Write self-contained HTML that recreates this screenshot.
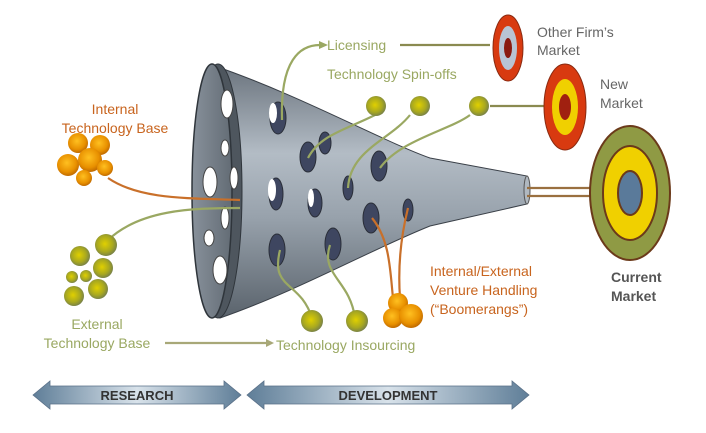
<!DOCTYPE html>
<html><head><style>
html,body{margin:0;padding:0;background:#fff;}
svg{display:block;}
text{font-family:"Liberation Sans",sans-serif;}
</style></head><body>
<svg width="706" height="433" viewBox="0 0 706 433" xmlns="http://www.w3.org/2000/svg">
<defs>
<linearGradient id="cone" x1="0" y1="0" x2="0" y2="1">
<stop offset="0" stop-color="#6a737d"/><stop offset="0.35" stop-color="#b3bcc5"/><stop offset="0.6" stop-color="#98a2ac"/><stop offset="1" stop-color="#5a636c"/>
</linearGradient>
<linearGradient id="face" x1="0" y1="0" x2="1" y2="0">
<stop offset="0" stop-color="#88919b"/><stop offset="1" stop-color="#636c75"/>
</linearGradient>
<linearGradient id="arr" x1="0" y1="0" x2="1" y2="0">
<stop offset="0" stop-color="#5f7e98"/><stop offset="0.5" stop-color="#d8e2ea"/><stop offset="1" stop-color="#5f7e98"/>
</linearGradient>
<radialGradient id="gb" cx="0.45" cy="0.45" r="0.6"><stop offset="0" stop-color="#e0d000"/><stop offset="0.6" stop-color="#a8a820"/><stop offset="1" stop-color="#6f7a50"/></radialGradient>
<radialGradient id="ob" cx="0.45" cy="0.4" r="0.6"><stop offset="0" stop-color="#ffc020"/><stop offset="0.7" stop-color="#e89000"/><stop offset="1" stop-color="#c06a00"/></radialGradient>
</defs>

<path d="M212,65 C300,95 380,140 430,158 L527,176 L527,204 L430,226 C370,250 300,290 220,318 Z" fill="url(#cone)" stroke="#3a4048" stroke-width="1"/>
<ellipse cx="527" cy="190" rx="3" ry="14" fill="#b0b8c0" stroke="#555"/>
<ellipse cx="218" cy="191" rx="24" ry="127" fill="#4e565e" stroke="#2f353b" stroke-width="1"/>
<ellipse cx="212" cy="191" rx="20" ry="127" fill="url(#face)" stroke="#2f353b" stroke-width="1.5"/>
<g fill="#fff" stroke="#444" stroke-width="1">
<ellipse cx="227" cy="104" rx="6" ry="14"/>
<ellipse cx="225" cy="148" rx="4" ry="8"/>
<ellipse cx="210" cy="182" rx="7" ry="15"/>
<ellipse cx="234" cy="178" rx="4" ry="11"/>
<ellipse cx="225" cy="218" rx="4" ry="11"/>
<ellipse cx="209" cy="238" rx="5" ry="8"/>
<ellipse cx="220" cy="270" rx="7" ry="14"/>
</g>
<g fill="#3e4660" stroke="#2a2e38" stroke-width="1">
<ellipse cx="278" cy="118" rx="8" ry="16"/>
<ellipse cx="325" cy="143" rx="6" ry="11"/>
<ellipse cx="308" cy="157" rx="8" ry="15"/>
<ellipse cx="379" cy="166" rx="8" ry="15"/>
<ellipse cx="276" cy="194" rx="7" ry="16"/>
<ellipse cx="315" cy="203" rx="7" ry="14"/>
<ellipse cx="348" cy="188" rx="5" ry="12"/>
<ellipse cx="371" cy="218" rx="8" ry="15"/>
<ellipse cx="408" cy="210" rx="5" ry="11"/>
<ellipse cx="277" cy="250" rx="8" ry="16"/>
<ellipse cx="333" cy="244" rx="8" ry="16"/>
</g>
<g fill="#fff"><ellipse cx="273" cy="113" rx="4" ry="10"/><ellipse cx="311" cy="198" rx="3" ry="9"/><ellipse cx="272" cy="190" rx="4" ry="11"/></g>

<g fill="none" stroke-width="2.2">
<path d="M108,178 C140,200 190,198 240,200" stroke="#c9702a"/>
<path d="M108,240 C140,210 190,208 240,208" stroke="#9aa862"/>
<path d="M282,120 C280,60 300,45 320,45" stroke="#9aa862"/>
<path d="M400,45 L490,45" stroke="#8a8a50"/>
<path d="M308,158 C320,135 345,130 375,115" stroke="#9aa862"/>
<path d="M348,188 C350,150 390,140 410,115" stroke="#9aa862"/>
<path d="M380,168 C400,140 450,130 470,115" stroke="#9aa862"/>
<path d="M490,106 L560,106" stroke="#8a8a50"/>
<path d="M527,188 L625,188 M527,196 L625,196" stroke="#9a7040"/>
<path d="M312,318 C300,280 270,290 280,250" stroke="#9aa862"/>
<path d="M355,318 C350,280 320,275 330,245" stroke="#9aa862"/>
<path d="M372,218 C390,240 390,270 393,298" stroke="#c9702a"/>
<path d="M408,208 C400,240 398,270 400,298" stroke="#c9702a"/>
<path d="M165,343 L270,343" stroke="#a8a878"/>
</g>
<g fill="#9aa862"><path d="M328,45 l-9,-4 v8z"/><path d="M274,343 l-8,-4 v8z" fill="#a8a878"/></g>

<g fill="url(#gb)">
<circle cx="376" cy="106" r="10"/><circle cx="420" cy="106" r="10"/><circle cx="479" cy="106" r="10"/>
<circle cx="312" cy="321" r="11"/><circle cx="357" cy="321" r="11"/>
<circle cx="106" cy="245" r="11"/><circle cx="80" cy="256" r="10"/><circle cx="103" cy="268" r="10"/>
<circle cx="74" cy="296" r="10"/><circle cx="98" cy="289" r="10"/><circle cx="86" cy="276" r="6"/>
<circle cx="72" cy="277" r="6"/>
</g>
<g fill="url(#ob)">
<circle cx="78" cy="143" r="10"/><circle cx="100" cy="145" r="10"/><circle cx="68" cy="165" r="11"/>
<circle cx="90" cy="160" r="12"/><circle cx="105" cy="168" r="8"/><circle cx="84" cy="178" r="8"/>
<circle cx="398" cy="303" r="10"/><circle cx="393" cy="318" r="10"/><circle cx="411" cy="316" r="12"/>
</g>

<ellipse cx="630" cy="193" rx="40" ry="67" fill="#8f9a44" stroke="#6b3a1a" stroke-width="2"/>
<ellipse cx="630" cy="193" rx="27" ry="47" fill="#f0d000" stroke="#6b3a1a" stroke-width="2"/>
<ellipse cx="630" cy="193" rx="12" ry="22" fill="#5a7a9a" stroke="#6b3a1a" stroke-width="2"/>
<ellipse cx="565" cy="107" rx="21" ry="43" fill="#d83a10" stroke="#8a2a10"/>
<ellipse cx="565" cy="107" rx="13" ry="28" fill="#f0d000"/>
<ellipse cx="565" cy="107" rx="6" ry="13" fill="#a02010"/>
<ellipse cx="508" cy="48" rx="15" ry="33" fill="#d83a10" stroke="#8a2a10"/>
<ellipse cx="508" cy="48" rx="9" ry="22" fill="#b8c4d4"/>
<ellipse cx="508" cy="48" rx="4" ry="10" fill="#8a1a10"/>

<g font-size="14">
<text x="115" y="114" fill="#c8641e" text-anchor="middle">Internal</text>
<text x="115" y="133" fill="#c8641e" text-anchor="middle">Technology Base</text>
<text x="97" y="329" fill="#9aa862" text-anchor="middle">External</text>
<text x="97" y="348" fill="#9aa862" text-anchor="middle">Technology Base</text>
<text x="327" y="50" fill="#9aa862">Licensing</text>
<text x="327" y="79" fill="#9aa862">Technology Spin-offs</text>
<text x="276" y="350" fill="#9aa862">Technology Insourcing</text>
<text x="430" y="276" fill="#c8641e">Internal/External</text>
<text x="430" y="295" fill="#c8641e">Venture Handling</text>
<text x="430" y="314" fill="#c8641e">(“Boomerangs”)</text>
<text x="537" y="37" fill="#666">Other Firm’s</text>
<text x="537" y="55" fill="#666">Market</text>
<text x="600" y="89" fill="#666">New</text>
<text x="600" y="108" fill="#666">Market</text>
<text x="611" y="282" fill="#555" font-weight="bold">Current</text>
<text x="611" y="301" fill="#555" font-weight="bold">Market</text>
</g>

<path d="M33,395 L50,381 L50,386 L224,386 L224,381 L241,395 L224,409 L224,404 L50,404 L50,409 Z" fill="url(#arr)" stroke="#5a7088" stroke-width="0.8"/>
<path d="M247,395 L264,381 L264,386 L512,386 L512,381 L529,395 L512,409 L512,404 L264,404 L264,409 Z" fill="url(#arr)" stroke="#5a7088" stroke-width="0.8"/>
<text x="137" y="400" font-size="13" font-weight="bold" fill="#333" text-anchor="middle">RESEARCH</text>
<text x="388" y="400" font-size="13" font-weight="bold" fill="#333" text-anchor="middle">DEVELOPMENT</text>
</svg>
</body></html>
